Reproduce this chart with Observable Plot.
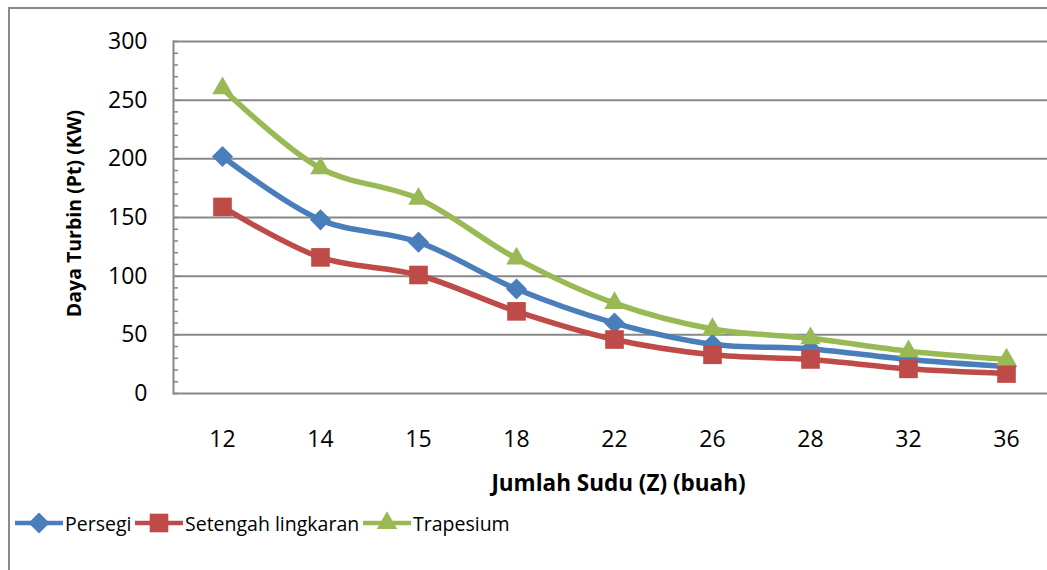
<!DOCTYPE html>
<html><head><meta charset="utf-8">
<script src="https://cdn.jsdelivr.net/npm/d3@7"></script>
<script src="https://cdn.jsdelivr.net/npm/@observablehq/plot@0.6"></script>
<style>
html,body{margin:0;padding:0;background:#fff;overflow:hidden;}
#wrap{position:relative;width:1047px;height:570px;overflow:hidden;background:#fff;}
#frame{position:absolute;left:8px;top:7px;width:1100px;height:620px;border:2px solid #8a8a8a;box-sizing:border-box;}
#chart{position:absolute;left:0;top:0;width:1056px;}
#chart svg{max-width:none !important;}
#legend{position:absolute;left:0;top:508px;width:1047px;height:30px;font-family:"Open Sans";font-size:19.5px;color:#000;}
.item{position:absolute;top:0;height:30px;display:flex;align-items:center;white-space:nowrap;}
.item svg{margin-right:2px;}
</style>
</head><body>
<div id="wrap"><div id="frame"></div><div id="chart"></div><div id="legend"></div></div>
<script>
const categories = ["12","14","15","18","22","26","28","32","36"];
const persegi = [202,148,129,89,60,42,38,29,23];
const setengah = [159,116,101,70,46,33,29,21,17];
const trapesium = [260,192,166,115,77,55,47,36,29];
const seriesNames = ["Persegi","Setengah lingkaran","Trapesium"];
const seriesColors = ["#4A7EBB","#BE4B48","#98B954"];
const seriesSymbols = ["diamond2","square","triangle"];
const yTicks = [0,50,100,150,200,250,300];
const yMinorTicks = d3.range(0,301,10);
const xTitle = "Jumlah Sudu (Z) (buah)";
const yTitle = "Daya Turbin (Pt) (KW)";

const seriesValues = [persegi, setengah, trapesium];
const rows = seriesValues.map((vals, s) => vals.map((v, i) => ({cat: categories[i], value: v, series: seriesNames[s]})));
const symbolR = {diamond2: 9.5, square: 10.5, triangle: 7.6};

const marks = [
  Plot.ruleY(yTicks, {stroke: "#878787", strokeWidth: 2}),
  Plot.frame({anchor: "left", stroke: "#878787", strokeWidth: 2}),
  Plot.axisY({ticks: yMinorTicks, tickSize: 5, dx: 5, tickFormat: () => "", stroke: "#878787", strokeWidth: 1.5, label: null}),
  Plot.axisY({ticks: yTicks, tickSize: 0, tickPadding: 26, fontSize: 23, label: null, fill: "#000"}),
  Plot.axisX({tickSize: 0, tickPadding: 37, fontSize: 23, label: null, fill: "#000"}),
  Plot.text([xTitle], {frameAnchor: "bottom", dx: 4, dy: 97, fontSize: 22.5, fontWeight: "bold", fill: "#000"}),
  Plot.text([yTitle], {frameAnchor: "left", textAnchor: "middle", dx: -99, dy: -4, rotate: -90, fontSize: 19.5, fontWeight: "bold", fill: "#000"})
];
rows.forEach((data, s) => {
  marks.push(Plot.line(data, {x: "cat", y: "value", stroke: seriesColors[s], strokeWidth: 5.5, curve: "catmull-rom", strokeLinejoin: "round"}));
  marks.push(Plot.dot(data, {x: "cat", y: "value", fill: seriesColors[s], stroke: "none", symbol: seriesSymbols[s], r: symbolR[seriesSymbols[s]]}));
});

const chart = Plot.plot({
  width: 1056, height: 500,
  marginLeft: 173, marginRight: 1, marginTop: 41, marginBottom: 107,
  style: {fontFamily: "Open Sans", background: "transparent", overflow: "visible", maxWidth: "none"},
  x: {type: "point", domain: categories, padding: 0.5},
  y: {domain: [0, 300]},
  marks
});
document.getElementById("chart").appendChild(chart);

// legend
const legendLeft = [15, 135, 363];
const legend = document.getElementById("legend");
seriesNames.forEach((name, s) => {
  const item = document.createElement("div");
  item.className = "item";
  item.style.left = legendLeft[s] + "px";
  const svg = d3.create("svg").attr("width", 48).attr("height", 30);
  svg.append("line").attr("x1", 0).attr("x2", 48).attr("y1", 15).attr("y2", 15)
    .attr("stroke", seriesColors[s]).attr("stroke-width", 4.5);
  const symType = {diamond2: d3.symbolDiamond2, square: d3.symbolSquare, triangle: d3.symbolTriangle}[seriesSymbols[s]];
  const r = symbolR[seriesSymbols[s]];
  svg.append("path").attr("d", d3.symbol(symType, Math.PI * r * r)()).attr("transform", "translate(24,15)").attr("fill", seriesColors[s]);
  item.appendChild(svg.node());
  const span = document.createElement("span");
  span.textContent = name;
  item.appendChild(span);
  legend.appendChild(item);
});
</script>
</body></html>
